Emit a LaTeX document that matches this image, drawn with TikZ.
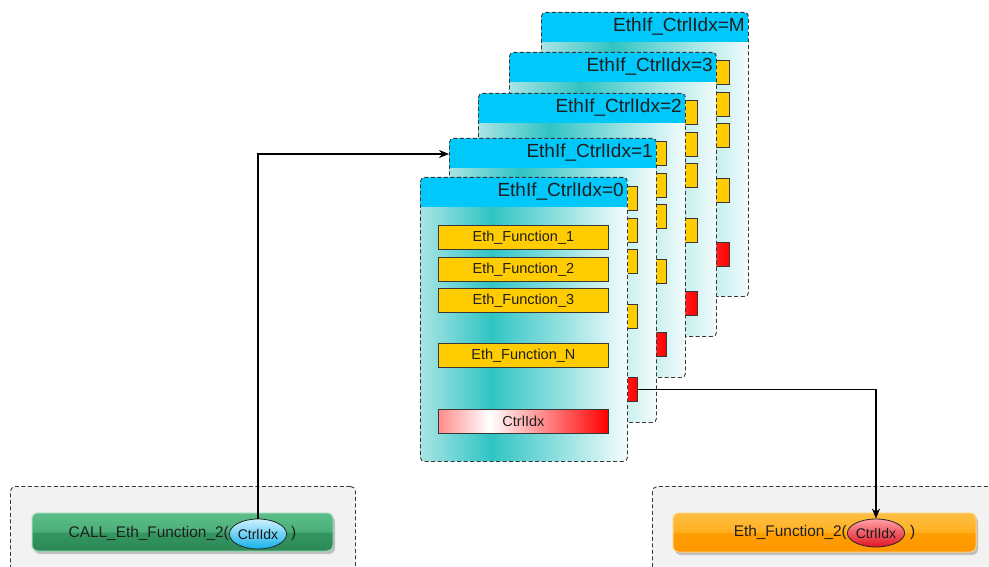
\documentclass[tikz,border=0pt]{standalone}
\usepackage{fontspec}
\setmainfont{Liberation Sans}
\usetikzlibrary{arrows.meta,shapes.geometric,shadows}

\definecolor{hdrcyan}{RGB}{0,200,250}
\definecolor{pnlL}{RGB}{170,228,228}
\definecolor{pnlM}{RGB}{48,196,196}
\definecolor{pnlR}{RGB}{244,252,252}
\definecolor{fyellow}{RGB}{255,204,0}
\definecolor{cpink}{RGB}{255,140,140}
\definecolor{bordergray}{RGB}{55,55,55}
\definecolor{bggray}{RGB}{242,242,242}
\definecolor{gtop}{RGB}{92,190,136}
\definecolor{gupper}{RGB}{76,175,122}
\definecolor{glower}{RGB}{52,150,96}
\definecolor{gbot}{RGB}{44,136,86}
\definecolor{gedge}{RGB}{150,214,176}
\definecolor{otop}{RGB}{255,190,70}
\definecolor{oupper}{RGB}{255,176,32}
\definecolor{olower}{RGB}{255,158,0}
\definecolor{obot}{RGB}{255,150,0}
\definecolor{oedge}{RGB}{255,208,120}
\definecolor{btop}{RGB}{205,242,255}
\definecolor{bbot}{RGB}{20,176,234}
\definecolor{rtop}{RGB}{255,160,165}
\definecolor{rbot}{RGB}{225,20,35}

% panel body: light teal, darker band, fading to white on the right
\pgfdeclarehorizontalshading{panelshade}{100bp}{color(0bp)=(pnlL); color(25bp)=(pnlL); color(42bp)=(pnlM); color(75bp)=(pnlR); color(100bp)=(pnlR)}
% controller index field: pink - white - red
\pgfdeclarehorizontalshading{ctrlshade}{100bp}{color(0bp)=(cpink); color(25bp)=(cpink); color(40bp)=(white); color(75bp)=(red); color(100bp)=(red)}
% glossy buttons (0bp is the bottom)
\pgfdeclareverticalshading{greenshade}{100bp}{color(0bp)=(gbot); color(25bp)=(gbot); color(49bp)=(glower); color(51bp)=(gupper); color(75bp)=(gtop); color(100bp)=(gtop)}
\pgfdeclareverticalshading{orangeshade}{100bp}{color(0bp)=(obot); color(25bp)=(obot); color(49bp)=(olower); color(51bp)=(oupper); color(75bp)=(otop); color(100bp)=(otop)}
\pgfdeclareverticalshading{blueshade}{100bp}{color(0bp)=(bbot); color(25bp)=(bbot); color(75bp)=(btop); color(100bp)=(btop)}
\pgfdeclareverticalshading{redshade}{100bp}{color(0bp)=(rbot); color(25bp)=(rbot); color(75bp)=(rtop); color(100bp)=(rtop)}

\begin{document}
\begin{tikzpicture}[x=1pt,y=-1pt,
  panel/.style={anchor=north west, minimum width=207pt, minimum height=284pt,
    inner sep=0pt, rounded corners=4pt, shade, shading=panelshade,
    draw=bordergray, line width=0.9pt, dash pattern=on 4pt off 2.5pt,
    path picture={\fill[hdrcyan, sharp corners]
      (path picture bounding box.north west) rectangle
      ([yshift=-30pt]path picture bounding box.north east);}},
  hdrtext/.style={anchor=east, inner sep=0pt, font=\fontsize{19}{22}\selectfont, text=black!88},
  fbox/.style={anchor=north west, minimum width=170pt, minimum height=24pt,
    inner sep=0pt, fill=fyellow, draw=bordergray, line width=0.8pt,
    font=\fontsize{14.5}{17}\selectfont, text=black!88},
  cbox/.style={anchor=north west, minimum width=170pt, minimum height=24pt,
    inner sep=0pt, shade, shading=ctrlshade, draw=bordergray, line width=0.8pt,
    font=\fontsize{14.5}{17}\selectfont, text=black!88},
  area/.style={anchor=north west, inner sep=0pt, fill=bggray, draw=bordergray,
    line width=0.9pt, dash pattern=on 4pt off 2.5pt, rounded corners=5pt},
  button/.style={inner sep=0pt, rounded corners=6pt, line width=1pt,
    drop shadow={shadow xshift=2pt, shadow yshift=-3pt, opacity=0.3, fill=black!70}},
  idx/.style={ellipse, inner sep=0pt, draw=black!85, line width=0.8pt,
    font=\fontsize{14}{16}\selectfont, text=black!90},
  btext/.style={inner sep=0pt, font=\fontsize{15.4}{18}\selectfont, text=black!88},
  conn/.style={draw=black, line width=1.1pt, -{Stealth[length=10pt,width=8pt]}}
]
\useasboundingbox (0,0) rectangle (989,567);
\clip (0,0) rectangle (989,567);

% stacked controller panels behind the front one; only the right ends of
% their function fields stick out
\foreach \n/\x/\y/\co in {M/541/12/230, 3/509/52/239, 2/478/93/239, 1/449/138/239}{
  \node[panel] (p\n) at (\x,\y) {};
  \node[hdrtext] (h\n) at ([xshift=-4pt, yshift=-15pt]p\n.north east) {EthIf\_CtrlIdx=\n};
  \node[fbox] (fa\n) at ([xshift=18pt, yshift=-48pt]p\n.north west) {};
  \node[fbox] (fb\n) at ([xshift=18pt, yshift=-80pt]p\n.north west) {};
  \node[fbox] (fc\n) at ([xshift=18pt, yshift=-111pt]p\n.north west) {};
  \node[fbox] (fn\n) at ([xshift=18pt, yshift=-166pt]p\n.north west) {};
  \node[cbox, shading=ctrlshade] (c\n) at ([xshift=18pt, yshift={-\co*1pt}]p\n.north west) {};
}

% front panel
\node[panel] (p0) at (420,177) {};
\node[hdrtext] (h0) at ([xshift=-4pt, yshift=-15pt]p0.north east) {EthIf\_CtrlIdx=0};
\node[fbox] (fa0) at ([xshift=18pt, yshift=-48pt]p0.north west) {Eth\_Function\_1};
\node[fbox] (fb0) at ([xshift=18pt, yshift=-80pt]p0.north west) {Eth\_Function\_2};
\node[fbox] (fc0) at ([xshift=18pt, yshift=-111pt]p0.north west) {Eth\_Function\_3};
\node[fbox] (fn0) at ([xshift=18pt, yshift=-166pt]p0.north west) {Eth\_Function\_N};
\node[cbox] (c0) at ([xshift=18pt, yshift=-232pt]p0.north west) {CtrlIdx};

% caller side
\node[area, minimum width=345pt, minimum height=120pt] (la) at (10,486) {};
\node[button, minimum width=301pt, minimum height=38pt, draw=gedge, shade, shading=greenshade] (g) at (182.5,532) {};
\node[idx, minimum width=50pt, minimum height=30pt, shade, shading=blueshade] (e1) at (258,534) {CtrlIdx};
\node[btext, anchor=east] (t1) at (e1.west) {CALL\_Eth\_Function\_2(};
\node[btext, anchor=west] (r1) at ([xshift=4pt]e1.east) {)};

% callee side
\node[area, minimum width=360pt, minimum height=120pt] (ra) at (652,486) {};
\node[button, minimum width=303pt, minimum height=39pt, draw=oedge, shade, shading=orangeshade] (o) at (824.5,532.5) {};
\node[idx, minimum width=47pt, minimum height=28pt, shade, shading=redshade] (e2) at (876,533) {CtrlIdx};
\node[btext, anchor=east] (t2) at (e2.west) {Eth\_Function\_2(};
\node[btext, anchor=west] (r2) at ([xshift=5pt]e2.east) {)};

% connectors
\draw[conn] (e1.north) |- ([yshift=-16pt]p1.north west);
\draw[conn] (c1.east) -| (e2.north);
\end{tikzpicture}
\end{document}
